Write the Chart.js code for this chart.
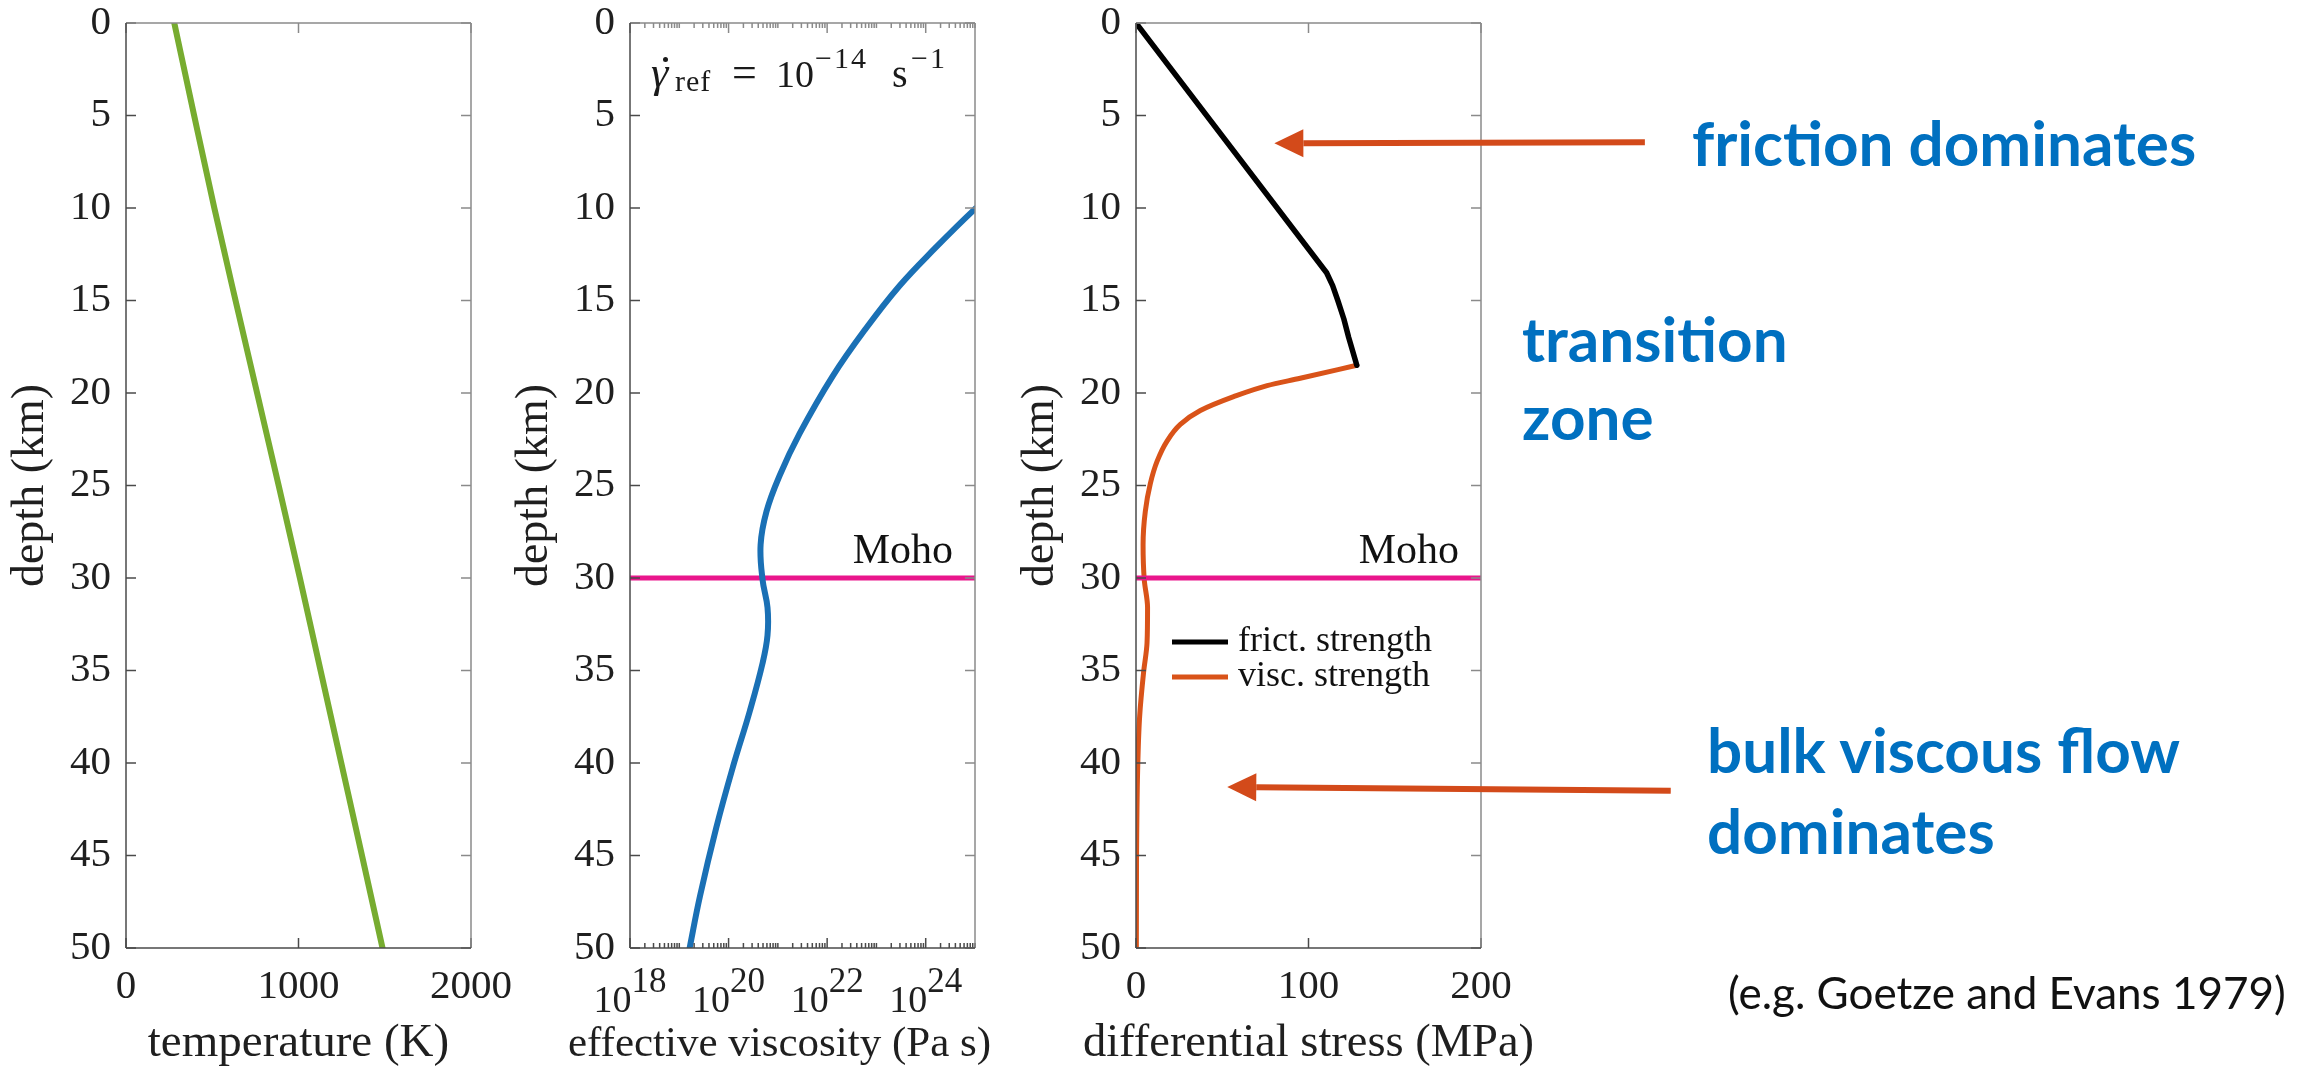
<!DOCTYPE html>
<html>
<head>
<meta charset="utf-8">
<title>Crustal strength profile</title>
<script src="https://cdn.jsdelivr.net/npm/chart.js@4.4.1/dist/chart.umd.min.js"></script>
<style>
  body { margin: 0; background: #fff; }
  #page { position: relative; width: 2308px; height: 1077px; overflow: hidden; background: #fff; }
  #page canvas { position: absolute; top: 0; }
  .note { position: absolute; font-family: Lato, "Open Sans", sans-serif; font-weight: 700; font-size: 62px; line-height: 62px; color: #0070c0; white-space: nowrap; }
  .cite { position: absolute; font-family: Lato, "Open Sans", sans-serif; font-size: 44px; line-height: 44px; color: #111; white-space: nowrap; }
  /* pieces of the strain-rate formula, placed by baseline (line-height 0) */
  .m { position: absolute; font-family: "Liberation Serif", serif; line-height: 0; color: #1a1a1a; white-space: nowrap; }
  .dot { position: absolute; width: 5px; height: 5px; border-radius: 50%; background: #1a1a1a; }
</style>
</head>
<body>
<div id="page">
  <canvas id="tempChart" width="560" height="1077" style="left:0px"></canvas>
  <canvas id="viscChart" width="560" height="1077" style="left:504px"></canvas>
  <canvas id="stressChart" width="1298" height="1077" style="left:1010px"></canvas>

  <span class="m" style="left:651px; top:73px; font-size:44px; font-style:italic">γ</span>
  <span class="dot" style="left:663px; top:57px"></span>
  <span class="m" style="left:675px; top:81px; font-size:30px; letter-spacing:1px">ref</span>
  <span class="m" style="left:732px; top:73px; font-size:44px">=</span>
  <span class="m" style="left:776px; top:74px; font-size:38px">10</span>
  <span class="m" style="left:815px; top:58px; font-size:30px; letter-spacing:2px">−14</span>
  <span class="m" style="left:892px; top:74px; font-size:40px">s</span>
  <span class="m" style="left:911px; top:58px; font-size:30px; letter-spacing:2px">−1</span>

  <div class="note" style="left:1692px; top:111px">friction dominates</div>
  <div class="note" style="left:1522px; top:307px">transition</div>
  <div class="note" style="left:1522px; top:385px">zone</div>
  <div class="note" style="left:1707px; top:718px">bulk viscous flow</div>
  <div class="note" style="left:1707px; top:799px">dominates</div>
  <div class="cite" style="left:1728px; top:970px">(e.g. Goetze and Evans 1979)</div>
</div>

<script>
// depth axis, shared by the three panels (km)
const depthTicks = [0, 5, 10, 15, 20, 25, 30, 35, 40, 45, 50];
const tempTicks = [0, 1000, 2000];
const stressTicks = [0, 100, 200];
const viscTickExponents = [18, 20, 22, 24];

// geotherm
const tempDepth = [0, 5, 10, 15, 20, 25, 30, 35, 40, 45, 50];
const temperature = [280, 395, 512, 635, 760, 885, 1008, 1128, 1248, 1368, 1487];

// effective viscosity, log10(Pa s); the first point lies just off the axis
const viscDepth = [9.6, 10.1, 12.2, 14.2, 16.5, 19.1, 22.2, 24.5, 26.4, 28.2, 30.1, 31.6, 33.1, 34.6, 37.2, 40.2, 43.5, 47.2, 50];
const viscLog10 = [25.22, 24.98, 24.18, 23.47, 22.79, 22.11, 21.44, 21.03, 20.77, 20.65, 20.69, 20.79, 20.79, 20.69, 20.43, 20.09, 19.75, 19.42, 19.21];

// differential stress (MPa)
const frictDepth = [0, 13.5, 14.2, 15, 16, 17, 17.8, 18.5];
const frictStress = [0, 110.5, 114, 117, 120.5, 123.3, 125.8, 128];
const viscStressDepth = [18.5, 19.2, 19.6, 20.2, 20.95, 21.7, 22.6, 23.7, 24.9, 26.4, 28.2, 30.1, 31.6, 33.5, 35.1, 37.5, 40.2, 45.4, 50];
const viscStress = [128, 95.2, 76, 56.6, 37.3, 25.7, 18, 12.2, 8.3, 5.4, 4.1, 4.8, 6.7, 6.4, 4.4, 2.1, 1.0, 0.3, 0.2];

const mohoDepth = 30;

// arrows pointing into the stress panel, in (MPa, km)
const arrows = [
  { from: [295, 6.45], to: [80.2, 6.5] },
  { from: [310, 41.5], to: [52.9, 41.3] },
];

const ink = "#1f1f1f";
const axisDark = "#4a4a4a";
const axisLight = "#8a8a8a";
const serif = "'Liberation Serif', 'Times New Roman', serif";
Chart.defaults.font.family = serif;
Chart.defaults.color = ink;

function toPoints(xs, ys) {
  return xs.map((x, i) => ({ x: x, y: ys[i] }));
}

function zeroPad(s) {
  s.paddingLeft = 0;
  s.paddingRight = 0;
  s.paddingTop = 0;
  s.paddingBottom = 0;
}

function depthAxis() {
  return {
    type: "linear",
    reverse: true,
    min: 0,
    max: 50,
    afterBuildTicks: (s) => {
      s.ticks = depthTicks.map((v) => ({ value: v }));
    },
    ticks: { padding: 15, font: { size: 41 }, color: ink, callback: (v) => String(v) },
    grid: { display: false, drawTicks: false },
    border: { display: false },
    title: { display: true, text: "depth (km)", font: { size: 46 }, color: ink, padding: { top: 3, bottom: 0 } },
    afterFit: (s) => {
      s.width = 126;
      zeroPad(s);
    },
  };
}

function linearAxis(values, label) {
  return {
    type: "linear",
    min: values[0],
    max: values[values.length - 1],
    afterBuildTicks: (s) => {
      s.ticks = values.map((v) => ({ value: v }));
    },
    ticks: { padding: 15, font: { size: 41 }, color: ink, maxRotation: 0, autoSkip: false, callback: (v) => String(v) },
    grid: { display: false, drawTicks: false },
    border: { display: false },
    title: { display: false, text: label },
    afterFit: (s) => {
      s.height = 129;
      zeroPad(s);
    },
  };
}

function segment(ctx, color, x1, y1, x2, y2) {
  ctx.strokeStyle = color;
  ctx.beginPath();
  ctx.moveTo(x1, y1);
  ctx.lineTo(x2, y2);
  ctx.stroke();
}

// box around the plot with inward ticks, like the original figure
const frameTicks = {
  id: "frameTicks",
  afterDraw(chart) {
    const { ctx, chartArea: a, scales } = chart;
    ctx.save();
    ctx.lineWidth = 1.5;
    scales.x.ticks.forEach((t) => {
      const px = scales.x.getPixelForValue(t.value);
      const len = t.short ? 5 : 10;
      segment(ctx, axisDark, px, a.bottom, px, a.bottom - len);
      segment(ctx, axisLight, px, a.top, px, a.top + len);
    });
    scales.y.ticks.forEach((t) => {
      const py = scales.y.getPixelForValue(t.value);
      segment(ctx, axisDark, a.left, py, a.left + 10, py);
      segment(ctx, axisLight, a.right, py, a.right - 10, py);
    });
    segment(ctx, axisLight, a.left, a.top, a.right, a.top);
    segment(ctx, axisLight, a.right, a.top, a.right, a.bottom);
    segment(ctx, axisDark, a.left, a.top, a.left, a.bottom);
    segment(ctx, axisDark, a.left, a.bottom, a.right, a.bottom);
    ctx.restore();
  },
};

// x axis title drawn without the width squeeze Chart.js applies
const xTitle = {
  id: "xTitle",
  afterDraw(chart, args, opts) {
    const { ctx, chartArea: a } = chart;
    ctx.save();
    ctx.font = (opts.size || 47) + "px " + serif;
    ctx.fillStyle = ink;
    ctx.textAlign = "center";
    ctx.textBaseline = "alphabetic";
    ctx.fillText(chart.options.scales.x.title.text, (a.left + a.right) / 2 + (opts.shift || 0), 1056);
    ctx.restore();
  },
};

// "Moho" written above the horizontal line
const mohoLabel = {
  id: "mohoLabel",
  afterDatasetsDraw(chart) {
    const { ctx, chartArea: a } = chart;
    const y = chart.scales.y.getPixelForValue(mohoDepth);
    ctx.save();
    ctx.font = "42px " + serif;
    ctx.fillStyle = "#111";
    ctx.textAlign = "right";
    ctx.textBaseline = "alphabetic";
    ctx.fillText("Moho", a.right - 22, y - 15);
    ctx.restore();
  },
};

// 10^n labels for the log axis
const powerLabels = {
  id: "powerLabels",
  afterDraw(chart) {
    const { ctx, chartArea: a } = chart;
    const x = chart.scales.x;
    ctx.save();
    ctx.fillStyle = ink;
    ctx.textBaseline = "alphabetic";
    ctx.textAlign = "left";
    viscTickExponents.forEach((e) => {
      const px = x.getPixelForValue(Math.pow(10, e));
      ctx.font = "38px " + serif;
      const wb = ctx.measureText("10").width;
      ctx.font = "35px " + serif;
      const we = ctx.measureText(String(e)).width;
      const x0 = px - (wb + we) / 2;
      ctx.font = "38px " + serif;
      ctx.fillText("10", x0, a.bottom + 64);
      ctx.font = "35px " + serif;
      ctx.fillText(String(e), x0 + wb, a.bottom + 44);
    });
    ctx.restore();
  },
};

// legend inside the stress panel + the two annotation arrows
const stressExtras = {
  id: "stressExtras",
  afterDraw(chart) {
    const { ctx, chartArea: a, scales } = chart;
    ctx.save();
    const items = chart.data.datasets.filter((d) => d.label !== "Moho");
    items.forEach((d, i) => {
      const y = a.top + 619 + i * 35;
      ctx.strokeStyle = d.borderColor;
      ctx.lineWidth = 5;
      ctx.beginPath();
      ctx.moveTo(a.left + 36, y);
      ctx.lineTo(a.left + 92, y);
      ctx.stroke();
      ctx.font = "36px " + serif;
      ctx.fillStyle = "#111";
      ctx.textBaseline = "alphabetic";
      ctx.fillText(d.label, a.left + 102, y + 9);
    });

    ctx.strokeStyle = "#d34a1a";
    ctx.fillStyle = "#d34a1a";
    ctx.lineWidth = 6;
    arrows.forEach((ar) => {
      const x1 = scales.x.getPixelForValue(ar.from[0]);
      const y1 = scales.y.getPixelForValue(ar.from[1]);
      const x2 = scales.x.getPixelForValue(ar.to[0]);
      const y2 = scales.y.getPixelForValue(ar.to[1]);
      const ang = Math.atan2(y2 - y1, x2 - x1);
      const hl = 29, hw = 14;
      const bx = x2 - hl * Math.cos(ang);
      const by = y2 - hl * Math.sin(ang);
      ctx.beginPath();
      ctx.moveTo(x1, y1);
      ctx.lineTo(bx, by);
      ctx.stroke();
      ctx.beginPath();
      ctx.moveTo(x2, y2);
      ctx.lineTo(bx + hw * Math.sin(ang), by - hw * Math.cos(ang));
      ctx.lineTo(bx - hw * Math.sin(ang), by + hw * Math.cos(ang));
      ctx.closePath();
      ctx.fill();
    });
    ctx.restore();
  },
};

// depth is the index axis, so the monotone spline follows depth
function baseOptions(padRight, xAxis, titleOpts) {
  return {
    responsive: false,
    animation: false,
    events: [],
    indexAxis: "y",
    layout: { autoPadding: false, padding: { left: 0, top: 23, right: padRight, bottom: 0 } },
    scales: { x: xAxis, y: depthAxis() },
    plugins: { legend: { display: false }, tooltip: { enabled: false }, xTitle: titleOpts },
  };
}

// curve: "monotone", a number (cardinal tension) or 0 for straight segments
function lineSet(label, points, color, width, curve) {
  return {
    label: label,
    data: points,
    fill: false,
    borderColor: color,
    borderWidth: width,
    pointRadius: 0,
    cubicInterpolationMode: curve === "monotone" ? "monotone" : "default",
    tension: typeof curve === "number" ? curve : 0,
    capBezierPoints: false,
    borderCapStyle: "round",
    borderJoinStyle: "round",
  };
}

// panel 1: temperature
new Chart(document.getElementById("tempChart"), {
  type: "line",
  data: {
    datasets: [lineSet("temperature", toPoints(temperature, tempDepth), "#77ac30", 6, "monotone")],
  },
  options: baseOptions(89, linearAxis(tempTicks, "temperature (K)"), { size: 47 }),
  plugins: [frameTicks, xTitle],
});

// panel 2: effective viscosity (log axis)
const viscAxis = {
  type: "logarithmic",
  min: 1e18,
  max: 1e25,
  afterBuildTicks: (s) => {
    const t = [];
    for (let e = 18; e < 25; e++) {
      for (let m = 1; m <= 9; m++) {
        t.push({ value: m * Math.pow(10, e), short: !(m === 1 && viscTickExponents.includes(e)) });
      }
    }
    t.push({ value: 1e25, short: true });
    s.ticks = t;
  },
  ticks: { display: false },
  grid: { display: false, drawTicks: false },
  border: { display: false },
  title: { display: false, text: "effective viscosity (Pa s)" },
  afterFit: (s) => {
    s.height = 129;
    zeroPad(s);
  },
};

new Chart(document.getElementById("viscChart"), {
  type: "line",
  data: {
    datasets: [
      lineSet("viscosity", toPoints(viscLog10.map((v) => Math.pow(10, v)), viscDepth), "#1a70b5", 6, 0.4),
      lineSet("Moho", [{ x: 1e18, y: mohoDepth }, { x: 1e25, y: mohoDepth }], "#e9168c", 5, 0),
    ],
  },
  options: baseOptions(89, viscAxis, { size: 43, shift: -23 }),
  plugins: [frameTicks, xTitle, mohoLabel, powerLabels],
});

// panel 3: differential stress
new Chart(document.getElementById("stressChart"), {
  type: "line",
  data: {
    datasets: [
      lineSet("Moho", [{ x: 0, y: mohoDepth }, { x: 200, y: mohoDepth }], "#e9168c", 5, 0),
      lineSet("frict. strength", toPoints(frictStress, frictDepth), "#000000", 5.5, 0),
      lineSet("visc. strength", toPoints(viscStress, viscStressDepth), "#d95319", 5, "monotone"),
    ],
  },
  options: baseOptions(827, linearAxis(stressTicks, "differential stress (MPa)"), { size: 46.5 }),
  plugins: [frameTicks, xTitle, mohoLabel, stressExtras],
});
</script>
</body>
</html>
